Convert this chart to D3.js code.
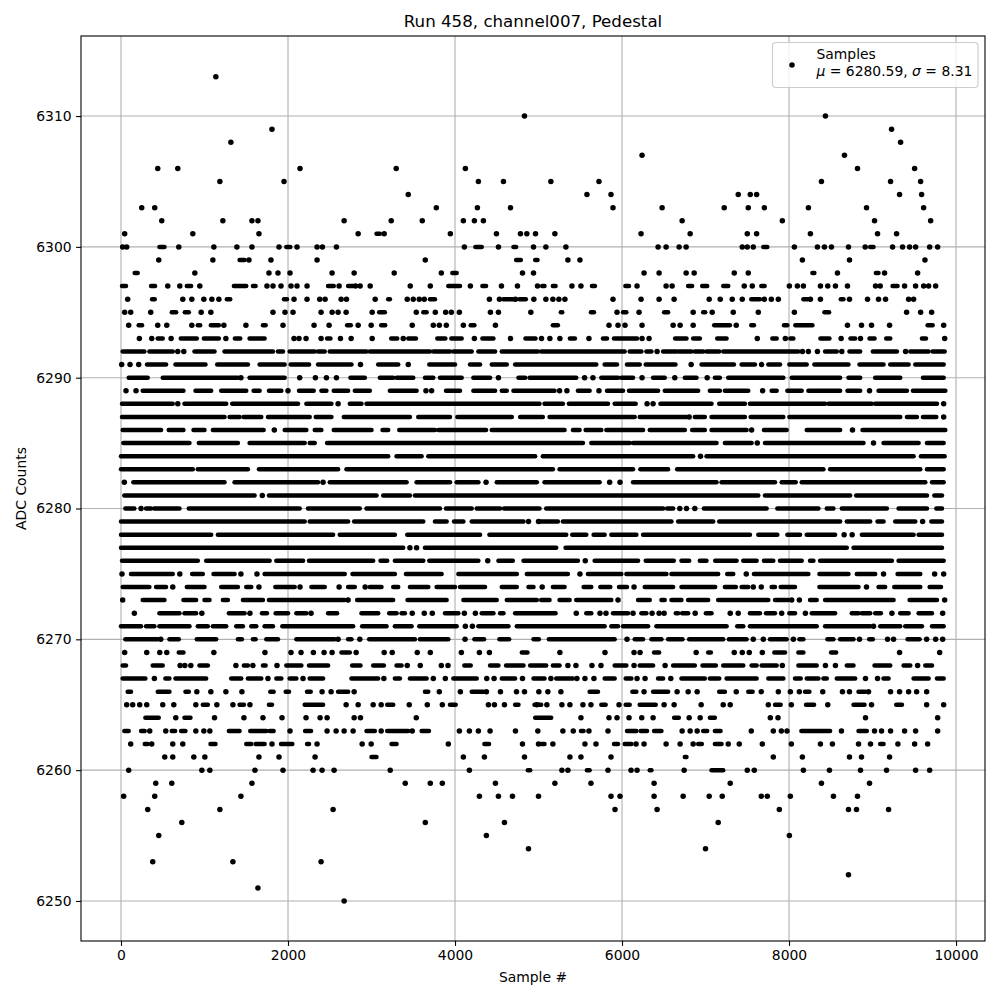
<!DOCTYPE html>
<html><head><meta charset="utf-8">
<script src="https://cdn.jsdelivr.net/npm/d3@7/dist/d3.min.js"></script>
<style>html,body{margin:0;padding:0;background:#fff}svg{display:block}text{font-family:"DejaVu Sans",sans-serif;fill:#000}</style>
</head><body><svg id="c" width="1000" height="1000"></svg>
<script>
// Values. A plain number is one visible sample; a pair [a,b] is a
// run of merged samples on that ADC level, whose individual samples cannot be told apart.
const L6313=[1136];
const L6310=[4832,8436];
const L6309=[1808,9228];
const L6308=[1316,9336];
const L6307=[6240,8664];
const L6306=[440,680,2144,3296,4124,8820,9504];
const L6305=[1184,1952,4280,4580,5148,5724,8388,9216,9576];
const L6304=[3440,5580,5868,7392,7536,7612,9324,9588];
const L6303=[248,404,3776,4268,4664,5892,6480,7224,7512,7704,8232,8928,9612];
const L6302=[488,1220,1568,1640,2672,3236,3608,4100,4232,4340,6720,7920,9024,9696];
const L6301=[44,860,1652,2840,[3060,3100],3152,3944,4496,4784,4860,4964,5196,6228,6816,7500,7612,8256,9060,9288];
const L6300=[20,68,[460,520],692,1112,1388,1568,1892,[1980,2028],2108,2348,2412,2580,4112,[4244,4320],4520,[4700,4732],4940,5088,5328,6432,6528,6684,6768,7440,7500,7572,[7692,7740],8064,8340,8424,8508,8712,8912,[8972,9012],9240,9360,9444,9516,9684,9780];
const L6299=[452,1100,[1420,1480],1532,1796,2348,3644,[4732,4788],[4960,4988],5352,5496,8160,8724,9628];
const L6298=[[164,200],884,1772,1880,2024,2528,2792,3272,3836,[3968,4020],4808,4940,6264,6444,6768,6864,7344,7512,[8280,8304],8580,[9040,9072],9144,9540];
const L6297=[[12,60],[360,408],560,704,[788,840],944,[1352,1500],[1580,1612],1748,1820,1916,2036,2108,2228,[2480,2548],2612,[2720,2780],2808,2864,2984,3464,3704,[3920,4060],4184,[4328,4372],4556,4748,4988,[5044,5072],[5172,5204],5400,5508,[5640,5676],[6040,6084],6180,6528,6600,[6792,6840],[6960,7020],[7212,7272],7464,7560,[7668,7708],8004,8100,8172,8376,8464,8556,8700,9036,9092,[9240,9300],9384,9516,9612,9672,9756];
const L6296=[80,[372,404],740,848,992,1088,1172,[1268,1308],[1952,1988],2072,2228,2380,2444,2636,2700,3044,[3200,3220],3428,3500,3572,3632,[3700,3760],4412,4532,[4580,4700],4724,[4772,4848],4944,5088,5172,5244,5316,5892,6228,6444,6624,7044,7176,7320,7440,[7548,7652],7704,7788,7872,[8172,8220],8256,8376,[8620,8652],8724,8940,9072,9156,9432,9492];
const L6295=[44,116,356,[608,660],[764,812],960,1076,1820,1964,2060,2396,2528,2600,2696,3008,[3092,3160],3536,[3620,3660],3764,3888,3956,4052,4424,4520,4908,[5268,5284],[5628,5664],5940,[6012,6052],6204,[6504,6552],6852,[6972,6996],7080,7332,7632,8064,[8424,8480],9408,9576,9708];
const L6294=[92,[212,252],440,548,848,[920,948],[1076,1172],1232,1496,[1700,1732],1940,2312,2492,[2708,2752],2840,2996,[3116,3164],3488,3740,3812,3896,4100,[4188,4232],4484,[5172,5232],5844,5952,6036,6240,6612,6696,6852,[7104,7292],7368,[7548,7580],[7940,7980],[8076,8280],8700,8868,8988,9204,[9660,9720],9852];
const L6293=[220,368,[440,500],600,[716,908],[992,1172],1256,[1364,1428],[1540,1720],2072,2132,2216,2396,[2468,2508],2628,2756,3008,[3236,3308],3380,[3440,3532],[3788,3884],[3956,4080],4232,[4328,4460],4664,[4844,4964],5036,5136,5256,[5376,5436],5604,[5772,5820],[5904,6180],6240,6324,[6636,6772],[6852,6932],[7140,7252],7620,[7800,7852],7956,[8016,8052],[8376,8484],8624,[8736,8792],8856,[8964,9024],[9164,9212],[9592,9640],9864];
const L6292=[[20,280],[340,620],680,752,[880,1120],[1240,1820],[1880,1940],[2020,2320],[2360,2440],[2500,2940],[2980,3700],[3740,3940],[3980,4200],[4280,4480],[4560,4992],[5032,5612],[5632,6032],[6092,6232],[6292,6352],6420,[6492,6652],[6680,6832],[6872,6972],[7012,7164],[7212,8012],[8032,8112],8160,8232,8340,[8432,8572],8632,[8724,8852],[9004,9292],9396,[9452,9672],[9720,9864]];
const L6291=[8,108,212,[312,540],[652,1012],[1152,1520],[1660,1960],[2032,2252],[2360,2760],2868,[3080,3320],3440,[3692,4000],[4180,4300],[4440,4620],[4720,5692],[5792,5940],[6060,6212],[6284,6640],6828,[6952,7340],[7432,7592],7672,[7752,7892],[8004,8212],[8304,8712],[8844,9132],[9212,9432],[9512,9852]];
const L6290=[[92,320],[500,1400],1436,[1540,1960],2140,2328,2460,2580,[2748,2920],[3100,3260],[3300,3500],[3640,3740],[3820,4080],[4220,4420],4520,[4760,4840],[4892,5452],5552,5652,[5752,5952],[5992,6132],6240,[6372,6512],6632,[6752,6892],7020,[7112,7172],[7272,7932],[8032,8612],[8712,8852],[9032,9332],[9604,9852]];
const L6289=[60,180,[260,748],[892,1080],[1200,1500],[1588,1660],[1772,1920],2000,[2132,2308],[2400,2460],[2548,2720],[2800,2980],[3220,3540],3652,3720,[3892,4060],[4220,4480],[4560,4620],[4700,5192],5252,5340,[5472,5612],5724,[5820,6012],[6084,6432],[6512,6912],[7052,7172],[7232,7512],7684,[7792,7852],[7980,8152],[8232,8612],[8700,8852],8964,[9072,9412],[9484,9872]];
const L6288=[[12,620],680,[760,1260],[1332,2120],[2220,2520],2600,[2740,2880],[2940,5012],[5072,5292],[5364,5832],[5912,6164],6300,6372,[6460,7072],[7164,7472],[7532,8432],[8472,8992],[9032,9772],9852];
const L6287=[[12,1240],[1300,1420],[1468,1680],[1760,2260],[2332,2520],[2668,3460],[3560,3940],[4028,4680],[4780,5052],[5132,6152],[6212,6772],6804,[6872,6992],[7072,7472],[7540,7932],[8004,9332],[9412,9532],[9604,9764],9852];
const L6286=[[20,480],[572,748],[868,1000],[1100,1708],1836,[1960,2220],[2320,2400],[2548,3000],[3132,3200],[3332,3760],[3800,4372],[4440,5312],[5412,5492],[5564,5752],[5812,6252],[6332,6752],[6840,6992],[7072,7492],7552,[7700,7972],[8212,8612],8760,[8880,9872]];
const L6285=[[28,820],[932,1400],[1540,2200],[2260,2320],[2468,5532],[5632,6092],[6132,7132],[7232,7552],7620,[7712,8892],9012,[9132,9552],[9652,9852]];
const L6284=[[0,3200],[3300,3600],[3680,4960],[5052,6852],6940,[7012,9492],[9580,9864]];
const L6283=[[0,860],[920,1520],[1652,2600],[2700,5172],[5252,6132],[6220,6552],[6660,8412],[8492,9572],[9652,9852]];
const L6282=[40,[148,1240],[1360,2360],2420,[2500,3420],[3540,3940],[4020,4280],4372,[4500,4980],[5072,5732],5852,5976,[6132,7132],[7192,7832],[7912,8080],[8152,9632],[9712,9852]];
const L6281=[[40,1600],1692,[1772,3060],[3140,3460],[3520,7632],[7712,8732],[8804,9652],[9740,9832]];
const L6280=[[52,160],240,[300,360],[400,700],[812,2140],[2240,2860],[2940,3820],[3892,4200],[4260,4540],[4588,5012],[5092,6492],[6540,6612],6692,6772,6872,[6980,7732],[7860,8352],[8452,8532],[8632,9172],[9312,9652],[9764,9832]];
const L6279=[[0,2200],[2260,2720],[2792,3620],[3760,3900],[3988,4100],[4200,4820],4880,5000,[5004,5232],[5292,6592],[6672,7092],[7164,8612],[8692,8972],[9060,9132],[9272,9512],9600,[9704,9832]];
const L6278=[[0,1080],[1160,2540],[2620,3280],[3428,4300],[4412,5332],[5404,5572],[5660,5792],[5872,6172],[6252,7532],[7632,7860],[7980,8132],[8212,8552],8660,8756,[8872,9492],[9552,9832]];
const L6277=[[0,3380],3460,3540,[3640,5212],[5324,8692],[8772,9832]];
const L6276=[[12,920],[1020,1780],[1860,2180],[2252,3020],[3108,3188],[3280,3620],[3692,4280],4392,[4520,4692],[4820,5472],5560,[5672,6192],[6284,6620],[6712,6804],[6932,7012],[7116,7372],[7452,7612],[7700,7812],[7892,8152],[8252,8292],[8372,9232],[9312,9852]];
const L6275=[12,[120,620],704,[852,980],[1108,1360],1436,1628,[1720,2680],[2772,3280],[3412,3840],[4040,4740],[4860,5352],5496,[5592,5992],[6052,6532],[6592,7152],[7260,7332],7488,[7580,8232],[8364,8712],[8812,9032],9132,[9300,9572],9744,9852];
const L6274=[[20,340],[420,540],620,[788,1000],[1200,1400],[1500,1560],1652,[1848,2080],2144,[2280,2440],2612,[2720,2800],2924,[2980,3120],[3260,3320],[3460,3680],[3780,4000],[4060,4360],[4560,4740],[4880,4940],5044,[5172,5312],[5540,5632],[5740,5860],[5964,6060],6144,[6272,6612],[6712,7116],[7232,7364],[7432,7512],7572,7668,[7792,7832],[7900,8072],[8364,8832],8928,[9072,9152],[9260,9572],[9684,9820]];
const L6273=[20,[260,520],[748,900],[1000,1060],[1220,1280],[1460,1700],[1772,2680],2720,[2828,3260],[3432,3900],[4100,4500],[4620,4980],[5032,5132],[5252,5372],[5452,5872],5952,[6192,6332],[6472,6512],[6592,6712],[6792,7032],[7152,7752],[7832,7992],8032,8124,[8252,8332],[8432,9252],[9444,9772],9864];
const L6272=[160,[460,700],[760,900],968,[1292,1480],1544,[1688,1748],[1852,2000],[2100,2220],2276,[2480,2588],[2880,3080],[3212,3300],[3360,3400],3488,3632,3728,[3880,4040],4112,4244,[4320,4460],[4540,4580],[4720,5204],5452,[5572,5632],5736,5808,[5892,6072],6132,[6232,6292],6360,6444,6504,[6644,6672],[6720,6792],6876,[7004,7072],7296,7392,[7532,7652],[7724,7832],7912,[8004,8072],8196,[8272,8552],[8752,8832],[8872,8972],[9032,9100],9232,[9332,9432],[9552,9712],9840];
const L6271=[[0,240],[300,400],[460,820],[920,1040],[1100,1260],[1380,1460],[1560,1620],[1720,1820],[1932,2780],[2888,3180],[3280,3480],[3572,4020],4124,4208,[4280,4640],[4740,5792],[5872,5952],[6012,6312],[6412,7252],[7380,7452],[7532,8332],[8432,8972],9012,[9092,9332],[9392,9592],[9712,9852]];
const L6270=[[52,440],476,[580,692],[908,1140],[1400,1448],[1580,1612],[1740,1880],[2100,2560],2600,[2720,2760],2860,[2972,3520],[3580,3920],4120,[4232,4348],[4532,4648],[4940,5004],[5124,5912],6060,[6152,6252],[6352,6472],[6552,6724],[6804,7212],[7280,7492],7572,7692,[7772,7972],8052,[8124,8172],[8460,8532],[8612,8772],8844,[8960,9004],9180,9252,[9420,9564],9648,9756,9840];
const L6269=[44,308,464,548,[692,748],1112,1724,2036,2156,2304,2432,2528,[2640,2740],2816,3152,3248,3548,3704,4076,4292,4412,[4800,4868],5256,5796,6144,6216,[6384,6444],6888,[7032,7064],7344,7440,7524,7680,[7824,7952],[8112,8172],[8504,8564],9324,9804];
const L6268=[[20,60],[380,500],708,764,836,[940,1040],1376,[1472,1520],1580,[1700,1732],1868,[1980,2160],[2252,2480],[2768,2868],[3020,3148],[3300,3360],3428,3584,3836,3916,[4112,4188],[4420,4520],[4612,4820],[4900,5092],[5172,5252],5352,5448,5640,5748,[5912,6052],6144,[6212,6372],6516,[6612,6872],[6964,7124],[7212,7452],[7552,7612],[7672,7852],7920,[8112,8332],8436,8556,[8692,8772],[9024,9212],[9372,9452],9540,[9632,9712]];
const L6267=[[20,292],400,[532,580],[652,1020],[1320,1440],[1520,1680],1760,[1860,1920],[2020,2100],2180,[2260,2420],[2760,3080],3148,[3280,3340],[3460,3660],3740,3884,[3980,4260],4380,4468,[4560,4720],4808,[4940,5072],5148,[5212,5412],5460,5556,5664,[5792,5912],[6044,6112],6180,6276,[6432,6492],6584,[6712,6992],[7052,7164],[7252,7612],[7752,7932],[8072,8140],[8212,8352],[8412,8452],[8572,8792],8916,9060,[9132,9192],[9492,9672],[9772,9852]];
const L6266=[[80,120],[440,580],[772,812],908,1076,1256,1448,[1788,1828],[1972,2012],[2228,2272],2408,2516,[2600,2720],2792,[3640,3680],3812,4064,[4200,4340],4376,4544,4736,4832,5004,5112,5268,[5612,5712],[6124,6172],6264,[6372,6552],6660,6792,6900,[7164,7232],7368,[7512,7564],7668,7872,8016,8124,[8192,8244],8404,8640,8724,[8832,8912],8952,9216,9324,9432,9528,9648];
const L6265=[68,140,224,308,500,632,896,[980,1040],1148,1340,[1420,1472],1544,[1772,1808],[2200,2420],2696,2840,3020,3116,[3188,3260],3452,3668,3848,[3940,4008],4400,4472,4592,[4720,4760],4980,[4952,5032],5100,5280,5376,5532,5628,[5752,5804],5964,[6044,6092],[6212,6404],6504,6624,6948,7212,7296,7752,[7832,7900],8028,[8204,8300],8464,[8772,8904],8988,[9284,9352],9648,9852];
const L6264=[[292,452],656,[760,832],1120,1472,1700,1928,2216,2384,2468,2792,2868,3536,[4960,5152],5508,5844,5940,6084,6236,6372,[6624,6680],6804,6936,[7052,7112],7776,7868,8916,9780];
const L6263=[[40,92],[240,284],344,536,[608,648],[720,772],896,992,1064,[1292,1420],[1548,1740],[1780,1828],2024,[2204,2276],2468,2576,2672,2780,[2940,3040],3116,[3188,3440],3488,[3600,3688],4052,4172,4280,4420,4724,4992,5292,5416,[5508,5540],5604,5832,[6060,6172],[6224,6300],[6384,6472],6720,6816,6900,[6972,7020],[7112,7180],7548,7812,7908,7976,[8148,8492],8628,[8832,8932],9024,9108,9216,9384,9516,9780];
const L6262=[116,[284,320],368,620,740,[1072,1132],[1500,1560],[1612,1720],1808,[1916,2052],[2228,2252],2348,2888,2996,[3240,3300],3920,[4352,4408],4808,5000,[5032,5072],5172,5556,5688,[5904,5952],[6032,6112],6168,6264,6528,6696,6852,[6912,6956],[7112,7192],7272,7404,7680,8028,8376,8520,8832,8976,[9092,9132],9304,9504,9660];
const L6261=[524,620,872,1004,1652,1892,2324,[3000,3060],4100,4352,4832,5376,5508,5868,[6752,6772],7812,8160,8724,8868,9204];
const L6260=[92,968,1064,1604,1940,2300,2408,2552,3224,4172,[4872,4900],5280,5352,[5580,5612],5832,6108,6180,[6332,6352],6744,[7072,7212],7500,7584,8172,8484,8856,9168,9516,9684];
const L6259=[416,608,1568,3404,3704,3848,4484,5196,5628,6384,7296,8388,8964];
const L6258=[32,404,1436,4292,4520,4688,5000,5868,5976,6384,6732,7044,7200,7668,7740,8016,8532,8820];
const L6257=[320,1184,2540,5916,6420,7884,8712,8808,9192];
const L6256=[728,3644,4592,7152];
const L6255=[452,4376,8004];
const L6254=[4880,7000];
const L6253=[380,1340,2396];
const L6252=[8712];
const L6251=[1640];
const L6250=[2672];

const adcLevels=[6313,6310,6309,6308,6307,6306,6305,6304,6303,6302,6301,6300,6299,6298,6297,6296,6295,6294,6293,6292,6291,6290,6289,6288,6287,6286,6285,6284,6283,6282,6281,6280,6279,6278,6277,6276,6275,6274,6273,6272,6271,6270,6269,6268,6267,6266,6265,6264,6263,6262,6261,6260,6259,6258,6257,6256,6255,6254,6253,6252,6251,6250];
const levelSamples=[L6313,L6310,L6309,L6308,L6307,L6306,L6305,L6304,L6303,L6302,L6301,L6300,L6299,L6298,L6297,L6296,L6295,L6294,L6293,L6292,L6291,L6290,L6289,L6288,L6287,L6286,L6285,L6284,L6283,L6282,L6281,L6280,L6279,L6278,L6277,L6276,L6275,L6274,L6273,L6272,L6271,L6270,L6269,L6268,L6267,L6266,L6265,L6264,L6263,L6262,L6261,L6260,L6259,L6258,L6257,L6256,L6255,L6254,L6253,L6252,L6251,L6250];
const xTicks=[0,2000,4000,6000,8000,10000];
const yTicks=[6250,6260,6270,6280,6290,6300,6310];
const titleText="Run 458, channel007, Pedestal";
const xLabel="Sample #", yLabel="ADC Counts";

const L=81,R=985,T=36,B=941, DOT=5.5, RUN=4.5;
const x=d3.scaleLinear().domain([-479,10347]).range([L,R]);
const y=d3.scaleLinear().domain([6316.12,6246.94]).range([T,B]);
const svg=d3.select("#c");
const font=13.9;

// grid
svg.append("g").selectAll("line").data(xTicks).join("line")
 .attr("x1",d=>x(d)).attr("x2",d=>x(d)).attr("y1",T).attr("y2",B).attr("stroke","#b0b0b0").attr("stroke-width",1.1);
svg.append("g").selectAll("line").data(yTicks).join("line")
 .attr("x1",L).attr("x2",R).attr("y1",d=>y(d)).attr("y2",d=>y(d)).attr("stroke","#b0b0b0").attr("stroke-width",1.1);

// marks
const singles=[],runs=[];
adcLevels.forEach((lv,i)=>levelSamples[i].forEach(v=>{
  if(Array.isArray(v)) runs.push({lv,a:v[0],b:v[1]}); else singles.push({lv,s:v});
}));
svg.append("g").selectAll("line").data(runs).join("line")
 .attr("x1",d=>x(d.a)).attr("x2",d=>x(d.b)).attr("y1",d=>y(d.lv)).attr("y2",d=>y(d.lv))
 .attr("stroke","#000").attr("stroke-width",RUN).attr("stroke-linecap","round");
svg.append("g").selectAll("circle").data(singles).join("circle")
 .attr("cx",d=>x(d.s)).attr("cy",d=>y(d.lv)).attr("r",DOT/2).attr("fill","#000");

// axes
const ax=svg.append("g").attr("transform",`translate(0,${B})`)
 .call(d3.axisBottom(x).tickValues(xTicks).tickFormat(d3.format("d")).tickSize(4.9).tickPadding(4.5));
const ay=svg.append("g").attr("transform",`translate(${L},0)`)
 .call(d3.axisLeft(y).tickValues(yTicks).tickFormat(d3.format("d")).tickSize(4.9).tickPadding(4.5));
[ax,ay].forEach(g=>{
  g.selectAll("text").style("font-family",'"DejaVu Sans"').style("font-size",font+"px").attr("fill","#000");
  g.selectAll(".tick line").attr("stroke","#000").attr("stroke-width",1.1);
  g.select(".domain").remove();
});
svg.append("rect").attr("x",L).attr("y",T).attr("width",R-L).attr("height",B-T)
 .attr("fill","none").attr("stroke","#000").attr("stroke-width",1.1);

// labels
svg.append("text").attr("x",(L+R)/2).attr("y",27).attr("text-anchor","middle").style("font-size","16.67px").text(titleText);
svg.append("text").attr("x",(L+R)/2).attr("y",982).attr("text-anchor","middle").style("font-size",font+"px").text(xLabel);
svg.append("text").attr("transform",`translate(26,488.5) rotate(-90)`).attr("text-anchor","middle").style("font-size",font+"px").text(yLabel);

// legend
const lg=svg.append("g");
lg.append("rect").attr("x",772.5).attr("y",42.5).attr("width",205.5).attr("height",45).attr("rx",3.5)
 .attr("fill","#fff").attr("fill-opacity",0.8).attr("stroke","#cccccc").attr("stroke-width",1.1);
lg.append("circle").attr("cx",792).attr("cy",65).attr("r",DOT/2).attr("fill","#000");
lg.append("text").attr("x",816.5).attr("y",59).style("font-size",font+"px").text("Samples");
const t2=lg.append("text").attr("x",816.5).attr("y",76).style("font-size",font+"px");
t2.append("tspan").style("font-style","italic").text("\u03BC");
t2.append("tspan").text(" = 6280.59, ");
t2.append("tspan").style("font-style","italic").text("\u03C3");
t2.append("tspan").text(" = 8.31");
</script></body></html>
